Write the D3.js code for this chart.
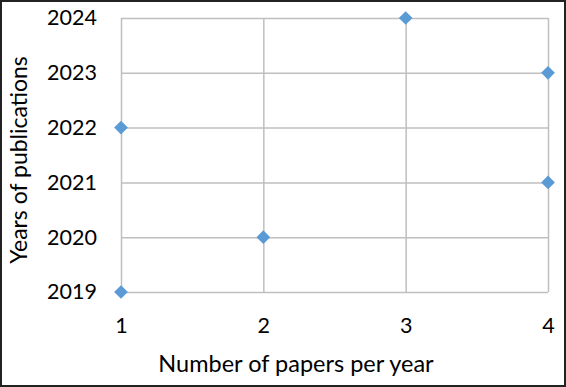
<!DOCTYPE html>
<html>
<head>
<meta charset="utf-8">
<script src="https://cdn.jsdelivr.net/npm/d3@7"></script>
<style>
  body { margin: 0; background: #fff; }
  svg { display: block; font-family: Lato, "Open Sans", sans-serif; }
</style>
</head>
<body>
<div class="chart"></div>
<script>
// papers per year vs year of publication
const papers = [1, 1, 2, 3, 4, 4];
const years = [2019, 2022, 2020, 2024, 2023, 2021];
const xTicks = [1, 2, 3, 4];
const yTicks = [2019, 2020, 2021, 2022, 2023, 2024];

const width = 566;
const height = 387;
const margin = ({top: 18, right: 18, bottom: 95, left: 121});

const x = d3.scaleLinear()
  .domain([1, 4])
  .range([margin.left, width - margin.right]);

const y = d3.scaleLinear()
  .domain([2019, 2024])
  .range([height - margin.bottom, margin.top]);

const svg = d3.select(".chart").append("svg")
  .attr("width", width)
  .attr("height", height);

svg.append("rect")
  .attr("x", 1).attr("y", 1)
  .attr("width", width - 2).attr("height", height - 2)
  .attr("fill", "#fff")
  .attr("stroke", "#222")
  .attr("stroke-width", 2);

// grid + tick labels
svg.append("g")
  .attr("transform", `translate(0,${height - margin.bottom})`)
  .call(d3.axisBottom(x).tickValues(xTicks).tickSize(-(height - margin.top - margin.bottom)).tickFormat(d3.format("d")))
  .call(g => g.select(".domain").remove())
  .call(g => g.selectAll("line").attr("stroke", "#bfbfbf").attr("stroke-width", 1.5))
  .call(g => g.selectAll("text").attr("fill", "#000").attr("font-size", 21.5).attr("font-family", "Lato, sans-serif")
    .attr("y", 41).attr("dy", 0));

svg.append("g")
  .attr("transform", `translate(${margin.left},0)`)
  .call(d3.axisLeft(y).tickValues(yTicks).tickSize(-(width - margin.left - margin.right)).tickFormat(d3.format("d")))
  .call(g => g.select(".domain").remove())
  .call(g => g.selectAll("line").attr("stroke", "#bfbfbf").attr("stroke-width", 1.5))
  .call(g => g.selectAll("text").attr("fill", "#000").attr("font-size", 21.5).attr("font-family", "Lato, sans-serif").attr("x", -24));

// points
const diamond = d3.symbol().type(d3.symbolDiamond2).size(120);
svg.append("g")
  .selectAll("path")
  .data(papers.map((p, i) => ({p, yr: years[i]})))
  .join("path")
  .attr("transform", d => `translate(${x(d.p)},${y(d.yr)})`)
  .attr("d", diamond)
  .attr("fill", "#5b9bd5");

// titles
svg.append("text")
  .attr("x", 296)
  .attr("y", 372)
  .attr("text-anchor", "middle")
  .attr("font-size", 23.5)
  .text("Number of papers per year");

svg.append("text")
  .attr("transform", `translate(27,160) rotate(-90)`)
  .attr("text-anchor", "middle")
  .attr("font-size", 23)
  .text("Years of publications");
</script>
</body>
</html>
